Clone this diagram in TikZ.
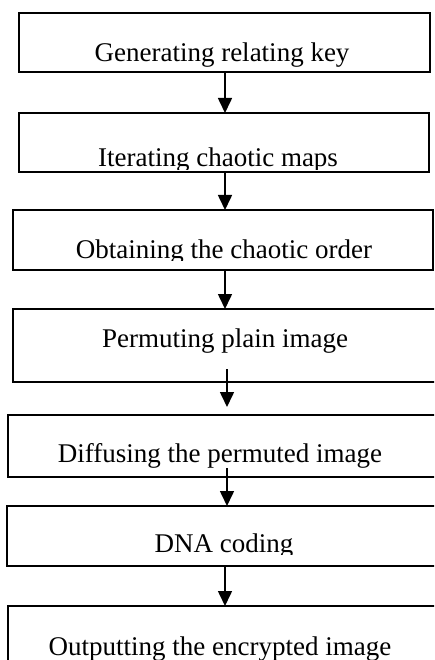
\documentclass[tikz,border=0pt]{standalone}
\usepackage{fontspec}
\setmainfont{Liberation Serif}
\usetikzlibrary{arrows.meta}
\tikzset{
  box/.style={draw=black, line width=1.6pt, inner sep=0pt, outer sep=0pt, rectangle},
  txt/.style={inner sep=0pt, outer sep=0pt, anchor=base, font=\fontsize{27}{32}\selectfont},
  arr/.style={line width=1.6pt, -{Triangle[width=14pt,length=15pt]}, shorten >=0pt}
}
\begin{document}
\begin{tikzpicture}[x=1pt,y=-1pt]
\useasboundingbox (0,0) rectangle (434,660);
\clip (0,0) rectangle (434,660);
% boxes
\node[box, minimum width=411pt, minimum height=59pt] (b1) at (224.5,42.5) {};
\node[box, minimum width=410pt, minimum height=59pt] (b2) at (224,142.5) {};
\node[box, minimum width=420pt, minimum height=60pt] (b3) at (223,240) {};
\node[box, minimum width=432pt, minimum height=73pt] (b4) at (229,345.5) {};
\node[box, minimum width=436pt, minimum height=62pt] (b5) at (226,446) {};
\node[box, minimum width=437pt, minimum height=60pt] (b6) at (225.5,536) {};
\node[box, minimum width=436pt, minimum height=70pt] (b7) at (226,641) {};
% texts (clipped as in the reference)
\begin{scope}\clip (0,13) rectangle (434,67);
\node[txt] (t1) at (222,62) {Generating relating key};\end{scope}
\begin{scope}\clip (0,113) rectangle (434,170);
\node[txt] (t2) at (218,167) {Iterating chaotic maps};\end{scope}
\begin{scope}\clip (0,210) rectangle (434,260);
\node[txt] (t3) at (224,258) {Obtaining the chaotic order};\end{scope}
\node[txt] (t4) at (225,347) {Permuting plain image};
\begin{scope}\clip (0,415) rectangle (434,467);
\node[txt] (t5) at (220,462) {Diffusing the permuted image};\end{scope}
\begin{scope}\clip (0,506) rectangle (434,554);
\node[txt] (t6) at (224,552) {DNA coding};\end{scope}
\node[txt] (t7) at (220,655) {Outputting the encrypted image};
% arrows
\coordinate (s4) at (227,369);
\coordinate (e4) at (227,407);
\coordinate (s5) at (227,468);
\draw[arr] (b1.south -| 225,0) -- (b2.north -| 225,0);
\draw[arr] (b2.south -| 225,0) -- (b3.north -| 225,0);
\draw[arr] (b3.south -| 225,0) -- (b4.north -| 225,0);
\draw[arr] (s4) -- (e4);
\draw[arr] (s5) -- (b6.north -| s5);
\draw[arr] (b6.south -| 225,0) -- (b7.north -| 225,0);
\end{tikzpicture}
\end{document}
